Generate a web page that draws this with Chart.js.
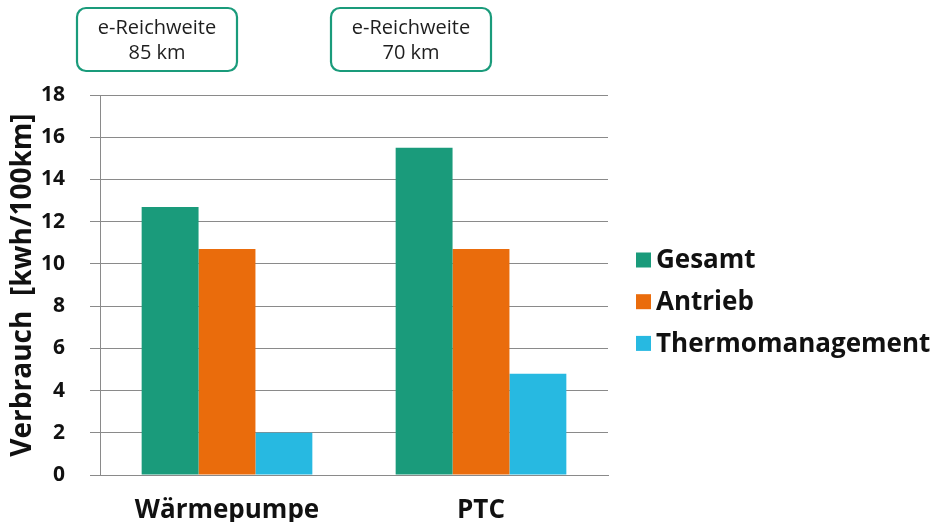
<!DOCTYPE html>
<html>
<head>
<meta charset="utf-8">
<script src="https://cdn.jsdelivr.net/npm/chart.js@4.4.1/dist/chart.umd.min.js"></script>
<style>
  html, body { margin: 0; padding: 0; background: #ffffff; }
  #wrap { width: 932px; height: 522px; position: relative; }
</style>
</head>
<body>
<div id="wrap"><canvas id="chart" width="932" height="522"></canvas></div>
<script>
// Heating concepts compared
const categories = ['Wärmepumpe', 'PTC'];
const seriesNames = ['Gesamt', 'Antrieb', 'Thermomanagement'];
const gesamt = [12.7, 15.5];
const antrieb = [10.7, 10.7];
const thermomanagement = [2.0, 4.8];
const reichweiteKm = [85, 70];
const yTicks = [0, 2, 4, 6, 8, 10, 12, 14, 16, 18];

const colors = ['#1a9b7b', '#ea6c0c', '#27b9e1'];
const FONT = "'Open Sans', 'DejaVu Sans', sans-serif";

// Range boxes above each group
const rangeBoxes = {
  id: 'rangeBoxes',
  afterDraw(chart) {
    const ctx = chart.ctx;
    const xs = chart.scales.x;
    ctx.save();
    categories.forEach((c, i) => {
      const cx = xs.getPixelForValue(i) - 70;
      const w = 160, h = 63, top = 8;
      const x0 = cx - w / 2;
      ctx.beginPath();
      ctx.roundRect(x0, top, w, h, 9);
      ctx.lineWidth = 2.2;
      ctx.strokeStyle = '#1a9b7b';
      ctx.stroke();
      ctx.fillStyle = '#1e1e1e';
      ctx.font = '20px ' + FONT;
      ctx.textAlign = 'center';
      ctx.textBaseline = 'middle';
      ctx.fillText('e-Reichweite', cx, top + 20);
      ctx.fillText(reichweiteKm[i] + ' km', cx, top + 45);
    });
    ctx.restore();
  }
};

// Legend on the right
const sideLegend = {
  id: 'sideLegend',
  afterDraw(chart) {
    const ctx = chart.ctx;
    ctx.save();
    chart.data.datasets.forEach((ds, i) => {
      const cy = 260 + i * 41.7;
      ctx.fillStyle = ds.backgroundColor;
      ctx.fillRect(636, cy - 7.5, 15, 15);
      ctx.fillStyle = '#111111';
      ctx.font = 'bold 26px ' + FONT;
      ctx.textAlign = 'left';
      ctx.textBaseline = 'middle';
      ctx.fillText(ds.label, 656, cy + 1);
    });
    ctx.restore();
  }
};

new Chart(document.getElementById('chart'), {
  type: 'bar',
  data: {
    labels: categories,
    datasets: [
      { label: seriesNames[0], data: gesamt, backgroundColor: colors[0] },
      { label: seriesNames[1], data: antrieb, backgroundColor: colors[1] },
      { label: seriesNames[2], data: thermomanagement, backgroundColor: colors[2] }
    ]
  },
  options: {
    responsive: false,
    animation: false,
    devicePixelRatio: 1,
    layout: { padding: { left: 0, right: 324, top: 95, bottom: 0 } },
    datasets: { bar: { barPercentage: 1.0, categoryPercentage: 0.672, borderWidth: 0 } },
    plugins: { legend: { display: false }, tooltip: { enabled: false } },
    scales: {
      x: {
        grid: { display: false, drawTicks: false },
        border: { display: true, color: '#8a8a8a', width: 1 },
        ticks: { color: '#111111', font: { family: FONT, size: 26, weight: 'bold' }, padding: 20 },
        afterFit(axis) { axis.height = 47; }
      },
      y: {
        min: 0,
        max: 18,
        afterBuildTicks(axis) { axis.ticks = yTicks.map(v => ({ value: v })); },
        grid: { color: '#8a8a8a', lineWidth: 1, tickLength: 10, drawTicks: true },
        border: { display: true, color: '#8a8a8a', width: 1 },
        ticks: { color: '#111111', font: { family: FONT, size: 21, weight: 'bold' }, padding: 25 },
        title: {
          display: true,
          text: 'Verbrauch  [kwh/100km]',
          color: '#111111',
          font: { family: FONT, size: 28, weight: 'bold' },
          padding: { top: 6, bottom: 0 }
        },
        afterFit(axis) { axis.width = 100; }
      }
    }
  },
  plugins: [rangeBoxes, sideLegend]
});
</script>
</body>
</html>
